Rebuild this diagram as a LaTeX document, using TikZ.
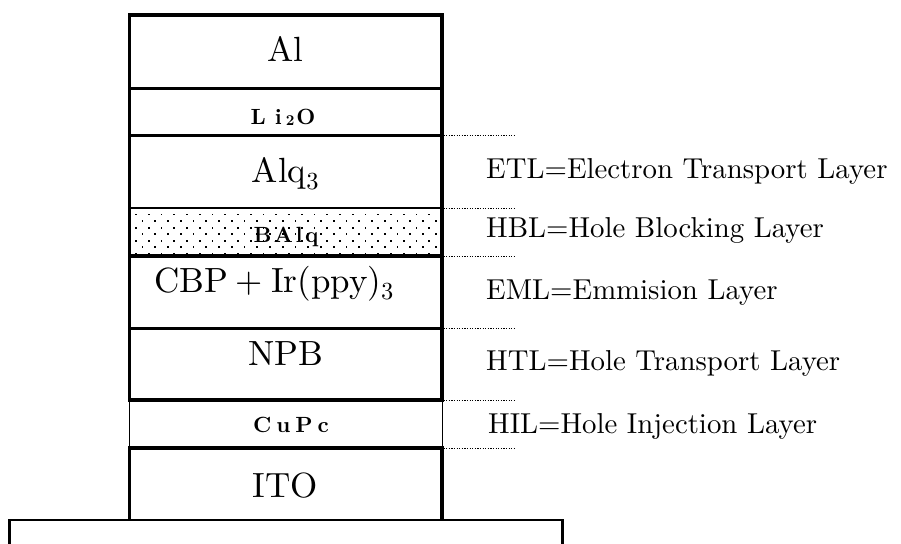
\documentclass[tikz,border=0pt]{standalone}
\usepackage{fontspec}
\setmainfont{lmroman10-regular.otf}[BoldFont=lmroman10-bold.otf]
\begin{document}
\begin{tikzpicture}[x=1pt,y=-1pt,
  thk/.style={line width=3.2pt},
  thn/.style={line width=1pt},
  leader/.style={line width=0.8pt, dash pattern=on 1.3pt off 1.3pt},
  big/.style={font=\fontsize{35}{40}\selectfont, anchor=base, inner sep=0pt},
  small/.style={font=\bfseries\fontsize{22}{26}\selectfont, anchor=base, inner sep=0pt},
  lab/.style={font=\fontsize{28.8}{34}\selectfont, anchor=base west, inner sep=0pt}]
\useasboundingbox (0,0) rectangle (901,543);
% substrate
\begin{scope}
\clip (0,0) rectangle (901,543);
\draw[line width=2.6pt] (9.5,550) -- (9.5,520) -- (562.5,520) -- (562.5,550);
\end{scope}
% dot pattern of BAlq
\foreach \r in {0,2,4,6} {
  \foreach \c in {0,...,23} {
    \fill ({136+12.75*\c-0.9},{214.5+6.55*\r-0.9}) rectangle ++(1.8,1.8);
  }
}
\foreach \r in {1,3,5} {
  \foreach \c in {0,...,23} {
    \fill ({142.4+12.75*\c-0.9},{214.5+6.55*\r-0.9}) rectangle ++(1.8,1.8);
  }
}
% stack outline
\draw[thk, line join=miter] (129.5,400) -- (129.5,15) -- (442,15) -- (442,400);
\draw[thn] (129.5,400) -- (129.5,448) (442,400) -- (442,448);
\draw[thk] (129.5,448) -- (129.5,521) (442,448) -- (442,521);
\foreach \y in {88.5,135.5,256,328.5,400,448} {
  \draw[thk] (128,\y) -- (443.5,\y);
}
\draw[line width=2.4pt] (128,208) -- (443.5,208);
% leaders
\foreach \y in {135.5,208,256,328.5,400,448} {
  \draw[leader] (443.5,\y) -- (514,\y);
}
% layer texts
\node[big] (al) at (285.5,61) {Al};
\node[small] (lio) at (283,124) {L\hspace{9pt}i\hspace{4pt}\raisebox{-1pt}{\fontsize{15}{15}\selectfont 2}\hspace{2pt}O};
\node[big] (alq) at (285.5,182) {Alq\textsubscript{3}};
\node[small] (balq) at (286,242) {B\hspace{2.5pt}A\hspace{2.5pt}l\hspace{2.5pt}q};
\node[big] (cbp) at (274,292) {CBP\hspace{8pt}+\hspace{8pt}Ir(ppy)\textsubscript{3}};
\node[big] (npb) at (285.5,365) {NPB};
\node[small] (cupc) at (291,432) {C\hspace{5pt}u\hspace{5pt}P\hspace{5pt}c};
\node[big] (ito) at (285.5,497) {ITO};
% right labels
\node[lab] (etl) at (486,178) {ETL=Electron Transport Layer};
\node[lab] (hbl) at (486,237) {HBL=Hole Blocking Layer};
\node[lab] (eml) at (486,299) {EML=Emmision Layer};
\node[lab] (htl) at (486,370) {HTL=Hole Transport Layer};
\node[lab] (hil) at (488,433) {HIL=Hole Injection Layer};
\end{tikzpicture}
\end{document}
